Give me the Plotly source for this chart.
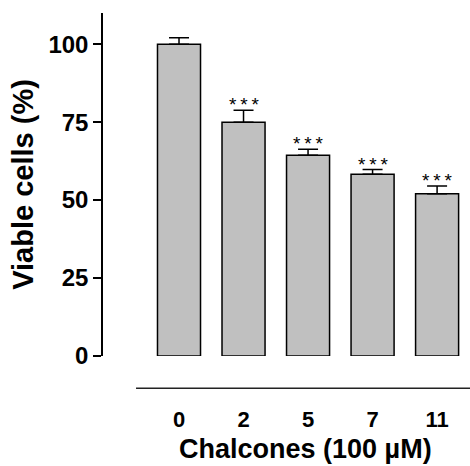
import plotly.graph_objects as go

categories = ["0", "2", "5", "7", "11"]
viable = [100.0, 75.0, 64.4, 58.3, 52.0]
sem = [2.1, 3.8, 1.9, 1.5, 2.5]
signif = ["", "*\u2009*\u2009*", "*\u2009*\u2009*", "*\u2009*\u2009*", "*\u2009*\u2009*"]
y_ticks = [0, 25, 50, 75, 100]

FONT = "Liberation Sans, Arial, Helvetica, sans-serif"

fig = go.Figure()
fig.add_trace(go.Bar(
    x=categories, y=viable,
    marker=dict(color="#c0c0c0", line=dict(color="black", width=1.5)),
    error_y=dict(type="data", array=sem, arrayminus=[0] * len(sem), symmetric=False,
                 color="black", thickness=1.5, width=10),
    showlegend=False,
    hoverinfo="skip",
))

for i, (v, e, s) in enumerate(zip(viable, sem, signif)):
    if s:
        fig.add_annotation(x=i, y=v + e, text=s, showarrow=False, yanchor="bottom",
                           yshift=-7, font=dict(family=FONT, size=19, color="black"))

# detached x-axis baseline
fig.add_shape(type="line", xref="paper", yref="paper", x0=0.09, x1=1.0, y0=-0.094, y1=-0.094,
              line=dict(color="#222222", width=1.5))

# x-axis title centred under the bars
fig.add_annotation(xref="paper", yref="paper", x=0.5526, y=-0.272, text="Chalcones (100 µM)",
                   showarrow=False, xanchor="center", yanchor="middle", borderpad=0,
                   font=dict(family=FONT, size=27, color="black", weight="bold"))

fig.update_layout(
    width=470, height=466,
    margin=dict(l=103, r=0, t=13, b=110),
    plot_bgcolor="white", paper_bgcolor="white",
    bargap=0.333,
    xaxis=dict(type="category", range=[-1.178, 4.51], automargin=False,
               showline=False, showgrid=False, zeroline=False,
               ticks="outside", ticklen=44, tickcolor="rgba(0,0,0,0)",
               tickfont=dict(family=FONT, size=22, color="black", weight="bold")),
    yaxis=dict(range=[0, 110], tickvals=y_ticks, automargin=False,
               showline=True, linecolor="black", linewidth=1.5,
               showgrid=False, zeroline=False, ticks="outside", ticklen=8, tickwidth=1.5,
               tickcolor="black",
               tickfont=dict(family=FONT, size=24, color="black", weight="bold"),
               title=dict(text="Viable cells (%)", standoff=6,
                          font=dict(family=FONT, size=29, color="black", weight="bold"))),
)

fig.write_html("out.html", config={"displayModeBar": False},
               post_script="document.body.style.margin='0';document.body.style.padding='0';")
